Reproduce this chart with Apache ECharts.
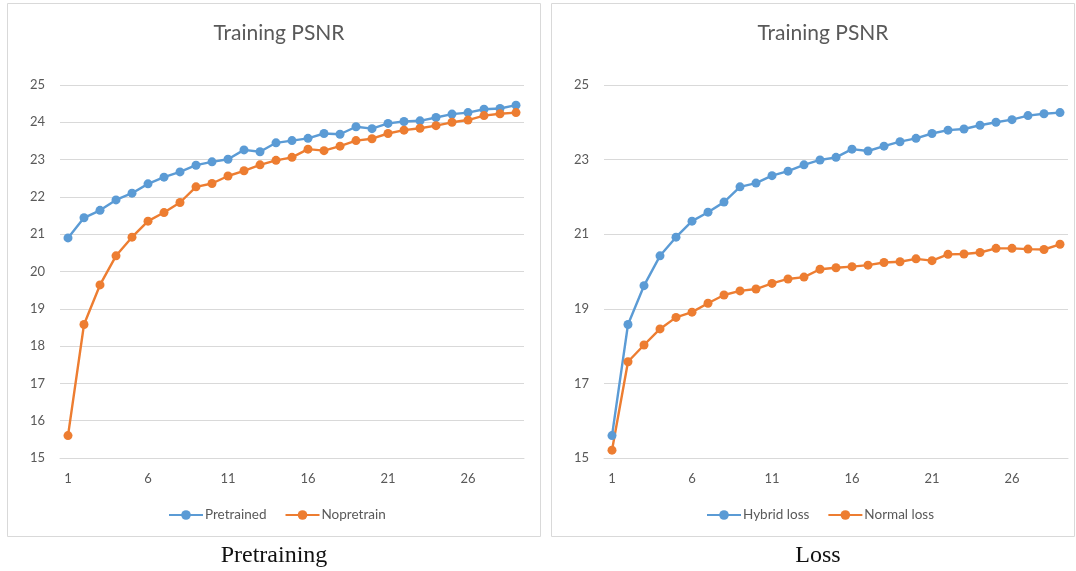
<!DOCTYPE html>
<html><head><meta charset="utf-8">
<script src="https://cdn.jsdelivr.net/npm/echarts@6/dist/echarts.min.js"></script>
<style>html,body{margin:0;padding:0;background:#fff}#c{width:1076px;height:571px}</style>
</head><body><div id="c"></div>
<script>
const epochs = Array.from({length: 29}, (_, i) => String(i + 1));
const pretrained = [20.9,21.44,21.64,21.92,22.1,22.35,22.53,22.67,22.85,22.94,23.01,23.26,23.21,23.45,23.51,23.57,23.7,23.68,23.88,23.83,23.97,24.02,24.04,24.13,24.22,24.26,24.35,24.37,24.46];
const nopretrain = [15.6,18.58,19.64,20.42,20.92,21.35,21.58,21.85,22.27,22.36,22.56,22.7,22.86,22.98,23.06,23.28,23.24,23.36,23.51,23.56,23.7,23.79,23.84,23.91,24.0,24.06,24.18,24.23,24.26];
const hybridLoss = [15.6,18.58,19.62,20.42,20.92,21.35,21.59,21.86,22.27,22.37,22.57,22.69,22.86,22.99,23.06,23.28,23.23,23.36,23.48,23.57,23.7,23.79,23.82,23.92,24.0,24.07,24.18,24.23,24.26];
const normalLoss = [15.21,17.58,18.03,18.46,18.77,18.91,19.15,19.37,19.48,19.53,19.68,19.8,19.85,20.06,20.1,20.13,20.17,20.24,20.26,20.34,20.29,20.46,20.47,20.51,20.62,20.62,20.6,20.59,20.73];
const titles = ['Training PSNR', 'Training PSNR'];
const captions = ['Pretraining', 'Loss'];
const legendNames = [['Pretrained', 'Nopretrain'], ['Hybrid loss', 'Normal loss']];

const blue = '#5b9bd5', orange = '#ed7d31', txt = '#595959', gridC = '#d9d9d9';
const font = 'Lato, "Open Sans", sans-serif';
const serif = '"Liberation Serif", "DejaVu Serif", serif';
const chart = echarts.init(document.getElementById('c'));

function xAxis(i) {
  return {type: 'category', gridIndex: i, data: epochs, boundaryGap: true,
    axisLine: {lineStyle: {color: gridC}}, axisTick: {show: false},
    axisLabel: {interval: 4, color: txt, fontSize: 13, fontFamily: font, margin: 14}};
}
function yAxis(i, interval) {
  return {type: 'value', gridIndex: i, min: 15, max: 25, interval: interval,
    axisLine: {show: false}, axisTick: {show: false},
    splitLine: {lineStyle: {color: gridC, width: 1}},
    axisLabel: {color: txt, fontSize: 13, fontFamily: font, margin: 15}};
}
function line(name, data, color, i) {
  return {type: 'line', name: name, data: data, xAxisIndex: i, yAxisIndex: i,
    symbol: 'circle', symbolSize: 9, color: color,
    lineStyle: {width: 2.4, color: color}, itemStyle: {color: color}};
}
const legendCommon = {itemWidth: 34, itemHeight: 12, itemGap: 18,
  textStyle: {color: txt, fontSize: 13.5, fontFamily: font, padding: [0, 0, 0, -3]}};

chart.setOption({
  animation: false,
  title: [
    {text: titles[0], left: 274, top: 18, textAlign: 'center', textStyle: {color: txt, fontSize: 21, fontWeight: 'normal', fontFamily: font}},
    {text: titles[1], left: 818, top: 18, textAlign: 'center', textStyle: {color: txt, fontSize: 21, fontWeight: 'normal', fontFamily: font}}
  ],
  legend: [
    Object.assign({}, legendCommon, {data: legendNames[0], left: 163, top: 503}),
    Object.assign({}, legendCommon, {data: legendNames[1], left: 701, top: 503})
  ],
  grid: [
    {left: 60, width: 464, top: 85, height: 373},
    {left: 604, width: 464, top: 85, height: 373}
  ],
  xAxis: [xAxis(0), xAxis(1)],
  yAxis: [yAxis(0, 1), yAxis(1, 2)],
  series: [
    line(legendNames[0][0], pretrained, blue, 0),
    line(legendNames[0][1], nopretrain, orange, 0),
    line(legendNames[1][0], hybridLoss, blue, 1),
    line(legendNames[1][1], normalLoss, orange, 1)
  ],
  graphic: [
    {type: 'rect', shape: {x: 7.5, y: 3.5, width: 533, height: 533}, style: {fill: null, stroke: gridC, lineWidth: 1}, silent: true},
    {type: 'rect', shape: {x: 551.5, y: 3.5, width: 523, height: 533}, style: {fill: null, stroke: gridC, lineWidth: 1}, silent: true},
    {type: 'text', x: 274, y: 556, style: {text: captions[0], textAlign: 'center', textVerticalAlign: 'middle', fill: '#111', fontSize: 24, fontFamily: serif}},
    {type: 'text', x: 818, y: 556, style: {text: captions[1], textAlign: 'center', textVerticalAlign: 'middle', fill: '#111', fontSize: 24, fontFamily: serif}}
  ]
});
</script></body></html>
